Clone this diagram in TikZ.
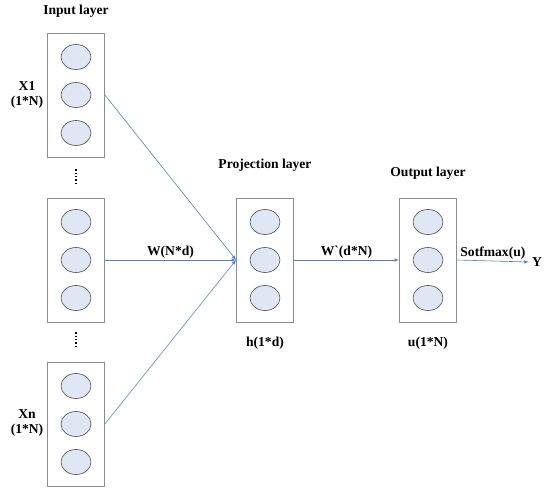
\documentclass[tikz,border=0pt]{standalone}
\usepackage{fontspec}
\setmainfont{Liberation Serif}
\usetikzlibrary{shapes.geometric}
\definecolor{linkblue}{RGB}{79,129,189}
\definecolor{unitfill}{RGB}{222,231,243}

\begin{document}
\begin{tikzpicture}[x=1pt,y=-1pt]
  \tikzset{layer box/.style = {draw=gray!90, line width=0.8pt, minimum width=57pt, minimum height=124pt, inner sep=0pt},
           unit/.style = {ellipse, draw=black!70, line width=0.6pt, fill=unitfill, minimum width=30pt, minimum height=25pt, inner sep=0pt},
           lbl/.style = {font=\fontsize{13.6}{15}\selectfont\bfseries, inner sep=1pt, align=center},
           link/.style = {draw=linkblue, line width=0.6pt, -latex}}
  \useasboundingbox (0,0) rectangle (550,492);

  % boxes and units
  \foreach \b/\cx/\cy in {in1/76/95, in2/76/260, in3/76/424, proj/265/260, out/428/260}{
    \node[layer box] (\b) at (\cx,\cy) {};
    \foreach \k/\dy in {a/-38, b/0, c/38}
      \node[unit] (\b\k) at (\cx,\cy+\dy) {};
  }

  % dots between input boxes
  \draw[dotted, line width=1.3pt] ([yshift=-12pt]in1.south) -- ([yshift=-27pt]in1.south);
  \draw[dotted, line width=1.3pt] ([yshift=-10pt]in2.south) -- ([yshift=-26pt]in2.south);

  % titles
  \node[lbl] (tin) at (76,11) {Input layer};
  \node[lbl] (tproj) at (265,165) {Projection layer};
  \node[lbl] (tout) at (428,173) {Output layer};
  \node[lbl] (x1) at (27,95) {X1\\(1*N)};
  \node[lbl] (xn) at (27,423) {Xn\\(1*N)};
  \node[lbl] (h) at (265,343) {h(1*d)};
  \node[lbl] (u) at (428,343) {u(1*N)};
  \node[lbl, inner sep=3pt] (y) at (537,262) {Y};

  % connections
  \draw[link] (in1.east) -- (proj.west);
  \draw[link] (in2.east) -- node[lbl, above] {W(N*d)} (proj.west);
  \draw[link] (in3.east) -- (proj.west);
  \draw[link] (proj.east) -- node[lbl, above] {W\textasciigrave(d*N)} (out.west);
  \draw[link] (out.east) -- node[lbl, above] {Sotfmax(u)} (y.west);
\end{tikzpicture}
\end{document}
